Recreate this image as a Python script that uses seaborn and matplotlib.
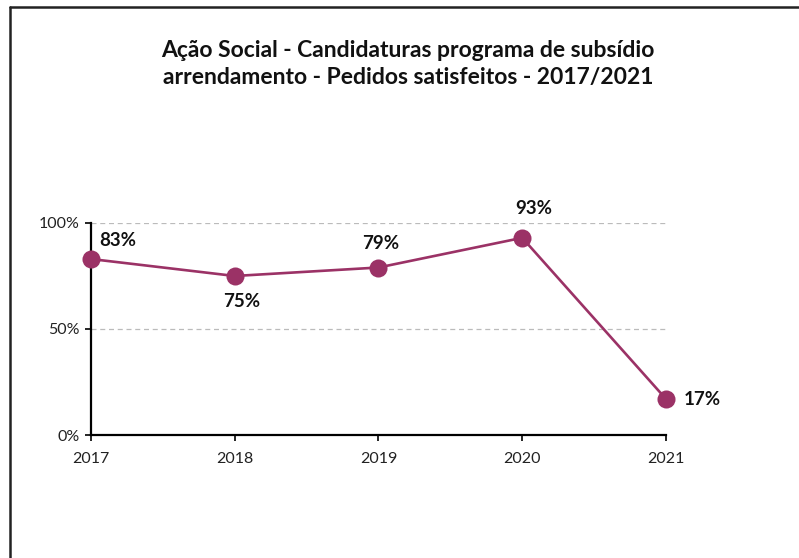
import matplotlib
matplotlib.use("Agg")
import matplotlib.pyplot as plt
from matplotlib.lines import Line2D
import seaborn as sns
import pandas as pd

years = ["2017", "2018", "2019", "2020", "2021"]
satisfied = [0.83, 0.75, 0.79, 0.93, 0.17]
value_labels = ["83%", "75%", "79%", "93%", "17%"]
yticks = [0, 0.5, 1.0]
ytick_labels = ["0%", "50%", "100%"]

title = "Ação Social - Candidaturas programa de subsídio\narrendamento - Pedidos satisfeitos - 2017/2021"

# label offsets in pixels relative to each point
label_offsets = [(27, 19), (7, -26), (2, 24), (12, 29), (36, -1)]

color = "#9B3266"

sns.set_theme(style="white")
plt.rcParams["font.family"] = ["Lato", "DejaVu Sans"]

df = pd.DataFrame({"year": years, "value": satisfied})
df["pos"] = range(len(years))

fig = plt.figure(figsize=(7.99, 5.58), dpi=100)
ax = fig.add_axes([0.1139, 0.2204, 0.8335 - 0.1139, 0.6004 - 0.2204])

sns.lineplot(data=df, x="pos", y="value", ax=ax, color=color, linewidth=1.9,
             marker="o", markersize=13, markeredgewidth=0, markerfacecolor=color)
for line in ax.get_lines():
    line.set_clip_on(False)
    line.set_zorder(3)

ax.set_xlim(0, len(years) - 1)
ax.set_ylim(0, 1.0)
ax.set_xticks(range(len(years)))
ax.set_xticklabels(years, fontsize=11.5, color="#222222")
ax.set_yticks(yticks)
ax.set_yticklabels(ytick_labels, fontsize=11.5, color="#222222")
ax.set_xlabel("")
ax.set_ylabel("")

for y in yticks[1:]:
    ax.axhline(y, color="#BBBBBB", linestyle=(0, (4, 3)), linewidth=0.9, zorder=0)

for side in ["top", "right"]:
    ax.spines[side].set_visible(False)
for side in ["left", "bottom"]:
    ax.spines[side].set_color("black")
    ax.spines[side].set_linewidth(1.6)
    ax.spines[side].set_zorder(2)

ax.tick_params(axis="both", which="both", direction="out", length=4, width=1.2,
               color="black", left=True, bottom=True)
ax.tick_params(axis="x", pad=8)
ax.tick_params(axis="y", pad=4)

for i, (v, lab) in enumerate(zip(satisfied, value_labels)):
    dx, dy = label_offsets[i]
    ax.annotate(lab, (i, v), xytext=(dx, dy), textcoords="offset pixels",
                ha="center", va="center", fontsize=13.5, fontweight="bold",
                color="#111111", annotation_clip=False)

fig.text(0.511, 0.886, title, ha="center", va="center", fontsize=16.5,
         fontweight="bold", color="#111111", linespacing=1.35)

# outer frame: left and top edges
fig.add_artist(Line2D([10 / 799, 10 / 799], [0, 1 - 6.5 / 558], transform=fig.transFigure,
                      color="#222222", linewidth=1.8))
fig.add_artist(Line2D([10 / 799, 1], [1 - 6.5 / 558, 1 - 6.5 / 558], transform=fig.transFigure,
                      color="#222222", linewidth=1.8))

fig.savefig("out.png", dpi=100)
